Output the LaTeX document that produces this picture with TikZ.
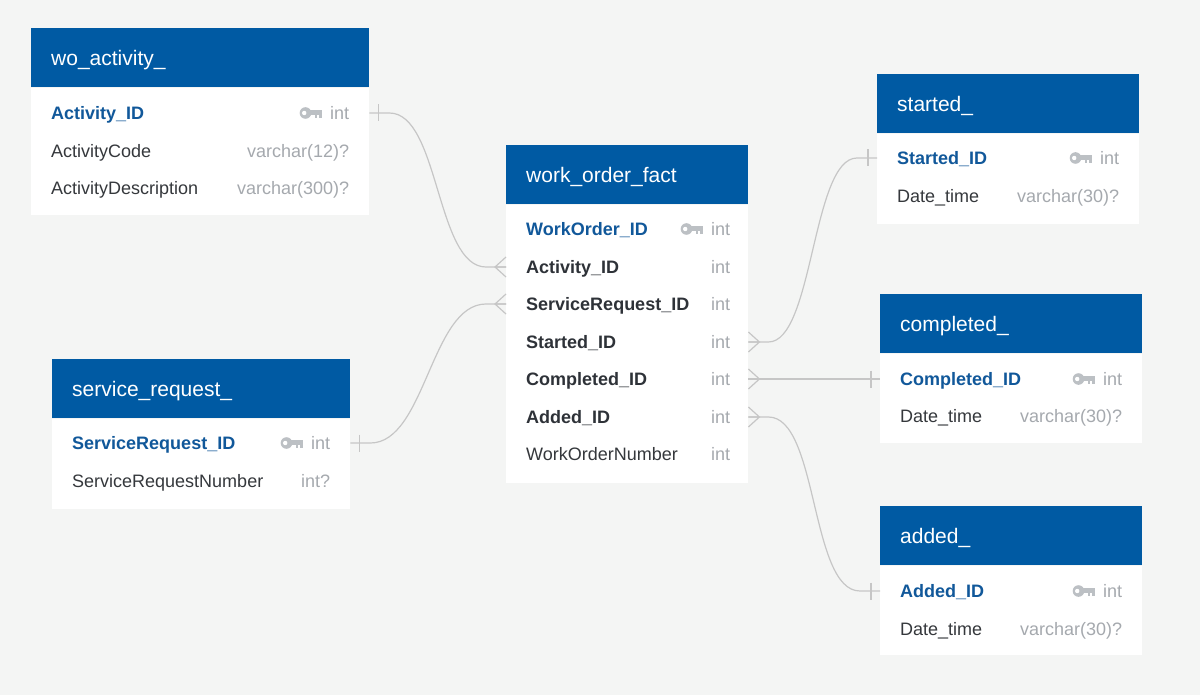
\documentclass[tikz,border=0pt]{standalone}
\usepackage{fontspec}
\setmainfont{Liberation Sans}
\usetikzlibrary{positioning}

\definecolor{bgc}{HTML}{F4F5F4}
\definecolor{hdrblue}{HTML}{005AA3}
\definecolor{pkblue}{HTML}{11589A}
\definecolor{fkdark}{HTML}{2E3238}
\definecolor{txt}{HTML}{35383C}
\definecolor{tgray}{HTML}{A5A9AE}
\definecolor{keygray}{HTML}{BCC0C4}
\definecolor{lgray}{HTML}{C6C6C6}

\newcommand{\bfont}{\fontsize{18}{21}\selectfont}
\newcommand{\hfont}{\fontsize{21}{24}\selectfont}

\tikzset{
  thead/.style={fill=hdrblue, text=white, font=\hfont, text width=#1pt, align=left,
    inner xsep=20pt, inner ysep=0pt, minimum height=59pt, anchor=north west,
    text height=17pt, text depth=2pt},
  tbody/.style={fill=white, minimum width=#1pt, inner sep=0pt},
  row/.style={text width=#1pt, align=left, inner xsep=20pt, inner ysep=0pt,
    minimum height=37.5pt, anchor=west, font=\bfont, text=txt,
    text height=15pt, text depth=2pt},
  pk/.style={font=\bfont\bfseries, text=pkblue},
  fk/.style={font=\bfont\bfseries, text=fkdark},
  typ/.style={font=\bfont, text=tgray, inner sep=0pt, text height=15pt, text depth=2pt},
  rel/.style={draw=lgray, line width=1.2pt},
  pkey/.pic={
    \fill[keygray] (-16.5,0) circle (5.8pt);
    \fill[white] (-17.8,0) circle (2.2pt);
    \fill[keygray] (-12,-2.8) rectangle (0,1.6);
    \fill[keygray] (-7,1.6) rectangle (-4.6,4.8);
    \fill[keygray] (-3.2,1.6) rectangle (0,4.8);
  },
  one/.pic={\draw[rel] (9,-8.5) -- (9,8.5);},
  many/.pic={\draw[rel] (0,-10) -- (11,0) -- (0,10) (0,0) -- (11,0);}
}

\begin{document}
\begin{tikzpicture}[x=1pt, y=-1pt]
    \fill[bgc] (0,0) rectangle (1200,695);

    % wo_activity_
    \node[thead=298] (wa-h) at (31,28) {wo\_activity\_};
    \node[tbody=338, minimum height=127pt, below=0pt of wa-h] (wa) {};
    \node[row=298, pk] (wa-id) at (31,113) {Activity\_ID};
    \node[row=298] (wa-code) at (31,151) {ActivityCode};
    \node[row=298] (wa-desc) at (31,188) {ActivityDescription};
    \node[typ, left=20pt of wa-id.east] (wa-id-t) {int};
    \node[typ, left=20pt of wa-code.east] {varchar(12)?};
    \node[typ, left=20pt of wa-desc.east] {varchar(300)?};
    \path ([xshift=-8pt]wa-id-t.west) pic {pkey};

    % service_request_
    \node[thead=258] (sr-h) at (52,359) {service\_request\_};
    \node[tbody=298, minimum height=90pt, below=0pt of sr-h] (sr) {};
    \node[row=258, pk] (sr-id) at (52,443) {ServiceRequest\_ID};
    \node[row=258] (sr-num) at (52,481) {ServiceRequestNumber};
    \node[typ, left=20pt of sr-id.east] (sr-id-t) {int};
    \node[typ, left=20pt of sr-num.east] {int?};
    \path ([xshift=-8pt]sr-id-t.west) pic {pkey};

    % work_order_fact
    \node[thead=202] (fa-h) at (506,145) {work\_order\_fact};
    \node[tbody=242, minimum height=278pt, below=0pt of fa-h] (fa) {};
    \node[row=202, pk] (fa-id) at (506,229) {WorkOrder\_ID};
    \node[row=202, fk] (fa-act) at (506,267) {Activity\_ID};
    \node[row=202, fk] (fa-sr) at (506,304) {ServiceRequest\_ID};
    \node[row=202, fk] (fa-st) at (506,342) {Started\_ID};
    \node[row=202, fk] (fa-co) at (506,379) {Completed\_ID};
    \node[row=202, fk] (fa-ad) at (506,417) {Added\_ID};
    \node[row=202] (fa-num) at (506,454) {WorkOrderNumber};
    \node[typ, left=18pt of fa-id.east] (fa-id-t) {int};
    \node[typ, left=18pt of fa-act.east] {int};
    \node[typ, left=18pt of fa-sr.east] {int};
    \node[typ, left=18pt of fa-st.east] {int};
    \node[typ, left=18pt of fa-co.east] {int};
    \node[typ, left=18pt of fa-ad.east] {int};
    \node[typ, left=18pt of fa-num.east] {int};
    \path ([xshift=-8pt]fa-id-t.west) pic {pkey};

    % started_
    \node[thead=222] (st-h) at (877,74) {started\_};
    \node[tbody=262, minimum height=90pt, below=0pt of st-h] (st) {};
    \node[row=222, pk] (st-id) at (877,158) {Started\_ID};
    \node[row=222] (st-dt) at (877,196) {Date\_time};
    \node[typ, left=20pt of st-id.east] (st-id-t) {int};
    \node[typ, left=20pt of st-dt.east] {varchar(30)?};
    \path ([xshift=-8pt]st-id-t.west) pic {pkey};

    % completed_
    \node[thead=222] (co-h) at (880,294) {completed\_};
    \node[tbody=262, minimum height=89pt, below=0pt of co-h] (co) {};
    \node[row=222, pk] (co-id) at (880,379) {Completed\_ID};
    \node[row=222] (co-dt) at (880,416) {Date\_time};
    \node[typ, left=20pt of co-id.east] (co-id-t) {int};
    \node[typ, left=20pt of co-dt.east] {varchar(30)?};
    \path ([xshift=-8pt]co-id-t.west) pic {pkey};

    % added_
    \node[thead=222] (ad-h) at (880,506) {added\_};
    \node[tbody=262, minimum height=89pt, below=0pt of ad-h] (ad) {};
    \node[row=222, pk] (ad-id) at (880,591) {Added\_ID};
    \node[row=222] (ad-dt) at (880,629) {Date\_time};
    \node[typ, left=20pt of ad-id.east] (ad-id-t) {int};
    \node[typ, left=20pt of ad-dt.east] {varchar(30)?};
    \path ([xshift=-8pt]ad-id-t.west) pic {pkey};

    % relations: one end (tick) and many end (crow foot)
    \draw[rel] (wa-id.east) -- ++(20,0) .. controls +(50,0) and +(-50,0) .. ([xshift=-20pt]fa-act.west) -- (fa-act.west);
    \draw[rel] (sr-id.east) -- ++(20,0) .. controls +(55,0) and +(-55,0) .. ([xshift=-20pt]fa-sr.west) -- (fa-sr.west);
    \draw[rel] (fa-st.east) -- ++(20,0) .. controls +(45,0) and +(-45,0) .. ([xshift=-20pt]st-id.west) -- (st-id.west);
    \draw[rel] (fa-co.east) -- (co-id.west);
    \draw[rel] (fa-ad.east) -- ++(20,0) .. controls +(50,0) and +(-50,0) .. ([xshift=-20pt]ad-id.west) -- (ad-id.west);

    \path (wa-id.east) pic {one};
    \path (sr-id.east) pic {one};
    \path (st-id.west) pic[xscale=-1] {one};
    \path (co-id.west) pic[xscale=-1] {one};
    \path (ad-id.west) pic[xscale=-1] {one};
    \path (fa-act.west) pic[xscale=-1] {many};
    \path (fa-sr.west) pic[xscale=-1] {many};
    \path (fa-st.east) pic {many};
    \path (fa-co.east) pic {many};
    \path (fa-ad.east) pic {many};
\end{tikzpicture}
\end{document}
